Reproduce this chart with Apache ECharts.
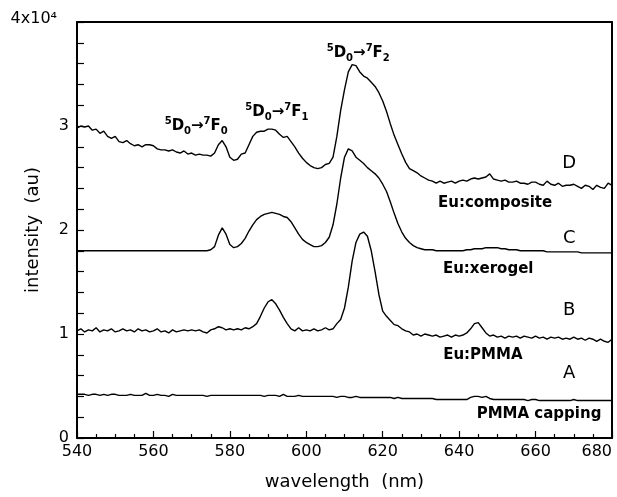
<!DOCTYPE html>
<html>
<head>
<meta charset="utf-8">
<script src="https://cdn.jsdelivr.net/npm/echarts@6/dist/echarts.min.js"></script>
<style>
html,body{margin:0;padding:0;background:#fff;}
#chart{width:617px;height:497px;}
</style>
</head>
<body>
<div id="chart"></div>
<script>
// wavelength grid start / end (nm), 1 nm sampling
const wlStart = 540;
const wlEnd = 680;

// intensities in units of 1e4 (au), one value per nm from 540 to 680
const seriesD = [
2.98,3.00,2.99,3.00,2.96,2.97,2.93,2.95,2.90,2.88,
2.90,2.85,2.84,2.86,2.83,2.81,2.82,2.80,2.82,2.82,
2.81,2.78,2.77,2.77,2.76,2.77,2.75,2.74,2.76,2.73,
2.74,2.72,2.73,2.72,2.72,2.71,2.74,2.82,2.86,2.80,
2.70,2.67,2.68,2.73,2.74,2.82,2.90,2.94,2.95,2.95,
2.97,2.97,2.96,2.92,2.89,2.90,2.85,2.80,2.74,2.69,
2.65,2.62,2.60,2.59,2.60,2.63,2.64,2.70,2.90,3.15,
3.35,3.52,3.59,3.58,3.52,3.48,3.46,3.42,3.38,3.32,
3.24,3.14,3.02,2.91,2.82,2.73,2.65,2.59,2.57,2.55,
2.52,2.50,2.48,2.47,2.45,2.47,2.45,2.46,2.47,2.45,
2.47,2.48,2.47,2.49,2.50,2.49,2.50,2.51,2.54,2.49,
2.48,2.47,2.48,2.46,2.46,2.47,2.45,2.45,2.44,2.46,
2.46,2.44,2.43,2.47,2.44,2.43,2.45,2.42,2.43,2.43,
2.44,2.42,2.40,2.43,2.42,2.39,2.43,2.41,2.40,2.45,
2.43
];
const seriesC = [
1.80,1.80,1.80,1.80,1.80,1.80,1.80,1.80,1.80,1.80,
1.80,1.80,1.80,1.80,1.80,1.80,1.80,1.80,1.80,1.80,
1.80,1.80,1.80,1.80,1.80,1.80,1.80,1.80,1.80,1.80,
1.80,1.80,1.80,1.80,1.80,1.81,1.84,1.95,2.02,1.96,
1.86,1.83,1.84,1.87,1.92,1.99,2.05,2.10,2.13,2.15,
2.16,2.17,2.16,2.15,2.13,2.12,2.08,2.02,1.96,1.91,
1.88,1.86,1.84,1.84,1.85,1.88,1.93,2.05,2.25,2.50,
2.70,2.78,2.76,2.70,2.67,2.64,2.60,2.57,2.54,2.50,
2.44,2.37,2.27,2.16,2.06,1.98,1.92,1.88,1.85,1.83,
1.82,1.81,1.81,1.81,1.80,1.80,1.80,1.80,1.80,1.80,
1.80,1.80,1.81,1.81,1.82,1.82,1.82,1.83,1.83,1.83,
1.83,1.82,1.82,1.81,1.81,1.81,1.80,1.80,1.80,1.80,
1.80,1.80,1.80,1.79,1.79,1.79,1.79,1.79,1.79,1.79,
1.79,1.79,1.78,1.78,1.78,1.78,1.78,1.78,1.78,1.78,
1.78
];
const seriesB = [
1.03,1.05,1.02,1.04,1.03,1.06,1.02,1.04,1.03,1.05,
1.02,1.03,1.05,1.03,1.04,1.02,1.05,1.03,1.04,1.02,
1.03,1.05,1.02,1.03,1.01,1.04,1.02,1.03,1.04,1.03,
1.04,1.03,1.04,1.02,1.01,1.04,1.05,1.07,1.06,1.04,
1.05,1.04,1.05,1.04,1.06,1.05,1.07,1.10,1.17,1.25,
1.31,1.33,1.29,1.23,1.16,1.10,1.05,1.03,1.06,1.03,
1.04,1.03,1.05,1.03,1.04,1.06,1.04,1.05,1.10,1.14,
1.25,1.45,1.70,1.88,1.96,1.98,1.94,1.80,1.60,1.38,
1.22,1.17,1.13,1.09,1.08,1.05,1.03,1.02,0.99,1.00,
0.98,1.00,0.99,0.98,0.99,0.97,0.98,0.99,0.97,0.99,
0.98,0.99,1.01,1.05,1.10,1.11,1.06,1.01,0.98,0.99,
0.97,0.98,0.96,0.98,0.97,0.98,0.96,0.98,0.97,0.96,
0.98,0.96,0.97,0.95,0.97,0.96,0.97,0.95,0.96,0.95,
0.97,0.95,0.96,0.94,0.96,0.95,0.93,0.95,0.93,0.92,
0.95
];
const seriesA = [
0.42,0.42,0.42,0.41,0.42,0.42,0.41,0.42,0.41,0.42,
0.42,0.41,0.41,0.41,0.42,0.41,0.41,0.41,0.43,0.41,
0.41,0.42,0.41,0.41,0.40,0.42,0.41,0.41,0.41,0.41,
0.41,0.41,0.41,0.41,0.40,0.41,0.41,0.41,0.41,0.41,
0.41,0.41,0.41,0.41,0.41,0.41,0.41,0.41,0.41,0.40,
0.41,0.41,0.41,0.40,0.42,0.40,0.40,0.40,0.41,0.40,
0.40,0.40,0.40,0.40,0.40,0.40,0.40,0.40,0.39,0.40,
0.40,0.39,0.39,0.40,0.39,0.39,0.39,0.39,0.39,0.39,
0.39,0.39,0.39,0.38,0.39,0.38,0.38,0.38,0.38,0.38,
0.38,0.38,0.38,0.38,0.37,0.37,0.37,0.37,0.37,0.37,
0.37,0.37,0.37,0.39,0.40,0.40,0.39,0.40,0.38,0.37,
0.37,0.37,0.37,0.37,0.37,0.37,0.37,0.37,0.36,0.37,
0.37,0.36,0.36,0.36,0.36,0.36,0.36,0.36,0.36,0.36,
0.37,0.36,0.36,0.36,0.36,0.36,0.36,0.36,0.36,0.36,
0.36
];

// tick labels
const xTicks = [540, 560, 580, 600, 620, 640, 660, 680];
const yTickLabels = ['0', '1', '2', '3', '4x10\u2074'];

// transition labels: rich-text pieces [superscript, letter, subscript]
const transTexts = [
  '{sup|5}{b|D}{sub|0}{b|\u2192}{sup|7}{b|F}{sub|0}',
  '{sup|5}{b|D}{sub|0}{b|\u2192}{sup|7}{b|F}{sub|1}',
  '{sup|5}{b|D}{sub|0}{b|\u2192}{sup|7}{b|F}{sub|2}'
];
const transWl = [571.2, 592.3, 613.6];
const transVal = [3.00, 3.13, 3.70];
// sample labels
const sampleTexts = ['Eu:composite', 'Eu:xerogel', 'Eu:PMMA', 'PMMA capping'];
const sampleWl = [649.4, 647.6, 646.2, 660.9];
const sampleVal = [2.26, 1.62, 0.80, 0.23];
// curve letters
const letterTexts = ['D', 'C', 'B', 'A'];
const letterWl = [668.8, 668.8, 668.8, 668.8];
const letterVal = [2.64, 1.92, 1.23, 0.62];

function pairs(vals) {
  const out = [];
  for (let i = 0; i < vals.length; i++) out.push([wlStart + i, vals[i]]);
  return out;
}

const FONT = '"DejaVu Sans", sans-serif';
const chart = echarts.init(document.getElementById('chart'), null, {renderer: 'canvas'});
const lineStyle = {color: '#000', width: 1.4};
function mkSeries(name, vals) {
  return {name, type: 'line', data: pairs(vals), showSymbol: false, symbol: 'none',
    lineStyle, itemStyle: {color: '#000'}, animation: false, silent: true};
}

const option = {
  backgroundColor: '#fff',
  animation: false,
  grid: {left: 77, right: 5, top: 22, bottom: 59, containLabel: false, outerBoundsMode: 'none'},
  xAxis: [{
    type: 'value', min: wlStart, max: wlEnd, interval: 20,
    axisLine: {show: true, lineStyle: {color: '#000', width: 2}},
    axisTick: {show: true, inside: true, length: 7, lineStyle: {color: '#000', width: 1.2}},
    minorTick: {show: true, splitNumber: 4, length: 4, lineStyle: {color: '#000', width: 1.2}},
    splitLine: {show: false},
    axisLabel: {color: '#000', fontSize: 16, fontFamily: FONT, margin: 6, alignMaxLabel: 'right',
      formatter: v => (xTicks.indexOf(v) >= 0 ? String(v) : '')},
    name: 'wavelength  (nm)', nameLocation: 'middle', nameGap: 35, nameMoveOverlap: false,
    nameTextStyle: {color: '#000', fontSize: 18, fontFamily: FONT}
  }, {
    type: 'value', position: 'top', min: wlStart, max: wlEnd,
    axisLine: {show: true, onZero: false, lineStyle: {color: '#000', width: 2}},
    axisTick: {show: false}, axisLabel: {show: false}, splitLine: {show: false}
  }],
  yAxis: [{
    type: 'value', min: 0, max: 4, interval: 1,
    axisLine: {show: true, lineStyle: {color: '#000', width: 2}},
    axisTick: {show: true, inside: true, length: 7, lineStyle: {color: '#000', width: 1.2}},
    minorTick: {show: true, splitNumber: 5, length: 7, lineStyle: {color: '#000', width: 1.2}},
    splitLine: {show: false},
    axisLabel: {color: '#000', fontSize: 16, fontFamily: FONT, margin: 8,
      formatter: v => (Math.round(v) === 4 ? '{top|' + yTickLabels[4] + '}' : yTickLabels[Math.round(v)]),
      rich: {top: {fontSize: 16, fontFamily: FONT, color: '#000', padding: [0, 12, 6, 0]}}},
    name: 'intensity  (au)', nameLocation: 'middle', nameGap: 35, nameRotate: 90, nameMoveOverlap: false,
    nameTextStyle: {color: '#000', fontSize: 18, fontFamily: FONT}
  }, {
    type: 'value', position: 'right', min: 0, max: 4,
    axisLine: {show: true, onZero: false, lineStyle: {color: '#000', width: 2}},
    axisTick: {show: false}, axisLabel: {show: false}, splitLine: {show: false}
  }],
  series: [mkSeries('D', seriesD), mkSeries('C', seriesC), mkSeries('B', seriesB), mkSeries('A', seriesA)]
};
chart.setOption(option);

const richStyles = {
  b: {fontSize: 15, fontWeight: 'bold', fontFamily: FONT, fill: '#000', color: '#000', verticalAlign: 'middle', lineHeight: 20},
  sup: {fontSize: 10, fontWeight: 'bold', fontFamily: FONT, fill: '#000', color: '#000', verticalAlign: 'top', lineHeight: 20},
  sub: {fontSize: 10, fontWeight: 'bold', fontFamily: FONT, fill: '#000', color: '#000', verticalAlign: 'bottom', lineHeight: 20}
};
const graphics = [];
function px(wl, v) { return chart.convertToPixel({xAxisIndex: 0, yAxisIndex: 0}, [wl, v]); }
for (let i = 0; i < transTexts.length; i++) {
  const p = px(transWl[i], transVal[i]);
  graphics.push({type: 'text', x: p[0], y: p[1], silent: true,
    style: {text: transTexts[i], rich: richStyles, fill: '#000', fontSize: 15, fontWeight: 'bold', fontFamily: FONT,
      align: 'center', verticalAlign: 'middle'}});
}
for (let i = 0; i < sampleTexts.length; i++) {
  const p = px(sampleWl[i], sampleVal[i]);
  graphics.push({type: 'text', x: p[0], y: p[1], silent: true,
    style: {text: sampleTexts[i], fill: '#000', fontSize: 15, fontWeight: 'bold', fontFamily: FONT,
      align: 'center', verticalAlign: 'middle'}});
}
for (let i = 0; i < letterTexts.length; i++) {
  const p = px(letterWl[i], letterVal[i]);
  graphics.push({type: 'text', x: p[0], y: p[1], silent: true,
    style: {text: letterTexts[i], fill: '#000', fontSize: 18, fontFamily: FONT,
      align: 'center', verticalAlign: 'middle'}});
}
chart.setOption({graphic: graphics});
</script>
</body>
</html>
